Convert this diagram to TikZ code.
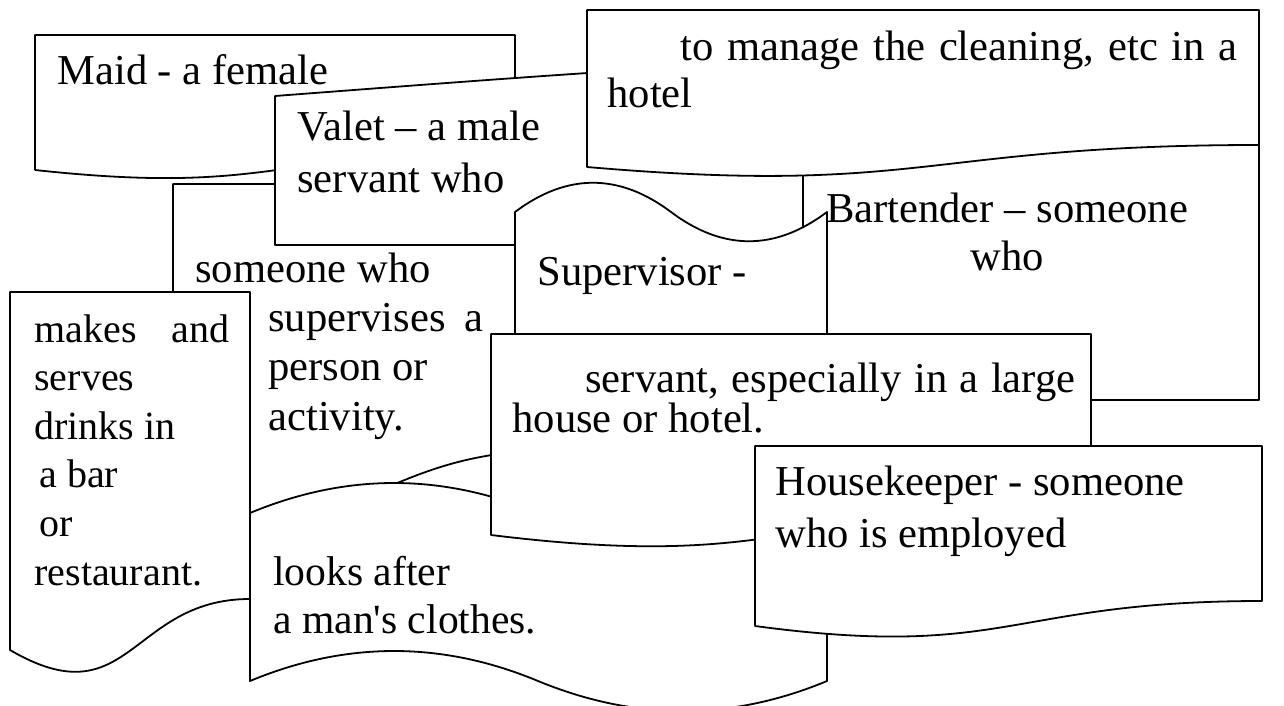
\documentclass[tikz,border=0pt]{standalone}
\usepackage{fontspec}
\setmainfont{Liberation Serif}
\begin{document}
\begin{tikzpicture}[x=0.5pt,y=-0.5pt,
  card/.style={draw,fill=white,line width=0.9pt,line join=round},
  txt/.style={font=\fontsize{21.3}{#1}\selectfont,anchor=base west,
    inner sep=0pt,align=left}]

  \useasboundingbox (0,0) rectangle (1284,706);

  % maid (text nodes sit on the baseline of their last line)
  \draw[card] (35,35) -- (515,35) -- (515,151)
    .. controls (275,151) and (275,196) .. (35,170) -- cycle;
  \node[txt=24pt] (maid) at (57,84) {Maid - a female};

  % someone who
  \draw[card] (173,184) -- (560,184) -- (560,450)
    .. controls (366,450) and (366,556) .. (173,500) -- cycle;
  \node[txt=24.6pt] (someone) at (195,430) {someone who\\
    \hspace*{36.5pt}\makebox[107.5pt][s]{supervises a}\\
    \hspace*{36.5pt}person or\\
    \hspace*{36.5pt}activity.};

  % valet
  \draw[card] (275,245) -- (275,96) .. controls (420,85) and (560,74) .. (700,66)
    -- (880,66) -- (880,245) -- cycle;
  \node[txt=26pt] (valet) at (297,192) {Valet -- a male\\servant who};

  % bartender
  \draw[card] (803,122) rectangle (1259,400);
  \node[txt=24pt,anchor=base,align=center] (bartender) at (1007,270)
    {Bartender -- someone\\who};

  % to manage
  \draw[card] (587,10) -- (1259,10) -- (1259,145)
    .. controls (923,145) and (923,196) .. (587,167) -- cycle;
  \node[txt=24pt] (manage) at (607,108)
    {\hspace*{36.5pt}\makebox[278.5pt][s]{to manage the cleaning, etc in a}\\hotel};

  % supervisor
  \draw[card] (515,345) -- (515,212) .. controls (567,173) and (619,173) .. (671,212)
    .. controls (723,251) and (775,251) .. (827,212) -- (827,345) -- cycle;
  \node[txt=24pt] (supervisor) at (537,285) {Supervisor -};

  % makes and
  \draw[card] (10,292) -- (250,292) -- (250,599)
    .. controls (130,599) and (130,720) .. (10,650) -- cycle;
  \node[txt=24.3pt,font=\fontsize{20}{24.3pt}\selectfont] (makes) at (34,585)
    {\makebox[97.5pt][s]{makes and}\\
    serves\\drinks in\\\hspace*{2.5pt}a bar\\\hspace*{2.5pt}or\\restaurant.};

  % looks after
  \draw[card] (250,513) .. controls (346,473) and (442,473) .. (538,513)
    .. controls (635,553) and (731,553) .. (827,513) -- (827,681)
    .. controls (731,721) and (635,721) .. (538,681)
    .. controls (442,641) and (346,641) .. (250,681) -- cycle;
  \node[txt=24pt,font=\fontsize{20.8}{24pt}\selectfont] (looks) at (273,633)
    {looks after\\a man\textquotesingle s clothes.};

  % servant
  \draw[card] (491,334) -- (1091,334) -- (1091,506)
    .. controls (791,506) and (791,572) .. (491,535) -- cycle;
  \node[txt=20pt] (servant) at (512,432)
    {\hspace*{36.5pt}\makebox[245pt][s]{servant, especially in a large}\\house or hotel.};

  % housekeeper
  \draw[card] (755,446) -- (1262,446) -- (1262,601)
    .. controls (1008,601) and (1008,660) .. (755,626) -- cycle;
  \node[txt=26pt] (housekeeper) at (775,547) {Housekeeper - someone\\who is employed};

\end{tikzpicture}
\end{document}
